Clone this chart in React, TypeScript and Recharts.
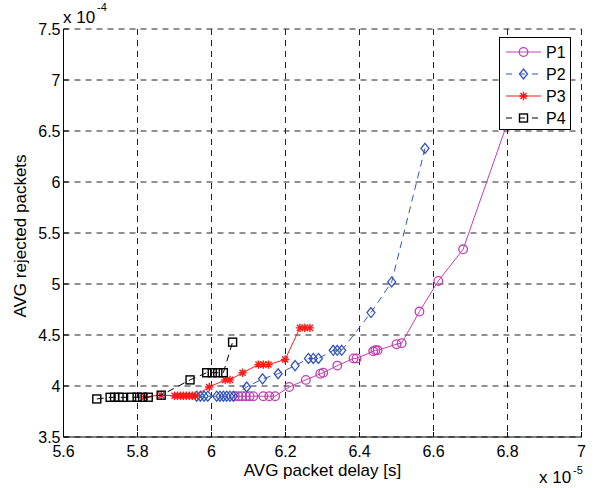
import React from "react";
import {
  ScatterChart, Scatter, XAxis, YAxis, CartesianGrid, Legend, Label,
} from "recharts";

// values are in units of 1e-5 s (x) and 1e-4 (y)
const X_TICKS = [5.6, 5.8, 6, 6.2, 6.4, 6.6, 6.8, 7];
const Y_TICKS = [3.5, 4, 4.5, 5, 5.5, 6, 6.5, 7, 7.5];

const P1_X = [6.063, 6.073, 6.083, 6.093, 6.103, 6.113, 6.14, 6.156, 6.172, 6.21, 6.255, 6.294, 6.302, 6.34, 6.384, 6.392, 6.437, 6.443, 6.449, 6.5, 6.514, 6.562, 6.613, 6.68, 6.82];
const P1_Y = [3.9, 3.9, 3.9, 3.9, 3.9, 3.9, 3.9, 3.9, 3.9, 3.99, 4.06, 4.12, 4.13, 4.2, 4.27, 4.27, 4.34, 4.35, 4.35, 4.41, 4.42, 4.73, 5.03, 5.34, 6.79];

const P2_X = [5.96, 5.97, 5.98, 5.99, 6.014, 6.023, 6.032, 6.041, 6.05, 6.059, 6.095, 6.138, 6.18, 6.226, 6.262, 6.275, 6.289, 6.329, 6.34, 6.352, 6.431, 6.487, 6.577];
const P2_Y = [3.9, 3.9, 3.9, 3.9, 3.9, 3.9, 3.9, 3.9, 3.9, 3.9, 3.99, 4.07, 4.12, 4.2, 4.27, 4.27, 4.27, 4.35, 4.35, 4.35, 4.72, 5.02, 6.33];

const P3_X = [5.82, 5.864, 5.9, 5.908, 5.916, 5.924, 5.932, 5.94, 5.948, 5.956, 5.994, 6.037, 6.05, 6.084, 6.127, 6.14, 6.154, 6.199, 6.239, 6.252, 6.266];
const P3_Y = [3.895, 3.91, 3.905, 3.905, 3.905, 3.905, 3.905, 3.905, 3.905, 3.905, 3.99, 4.06, 4.06, 4.13, 4.21, 4.21, 4.21, 4.26, 4.57, 4.57, 4.57];

const P4_X = [5.69, 5.726, 5.738, 5.75, 5.76, 5.784, 5.799, 5.814, 5.829, 5.864, 5.942, 5.987, 6.002, 6.017, 6.032, 6.057];
const P4_Y = [3.873, 3.889, 3.889, 3.889, 3.889, 3.89, 3.89, 3.89, 3.89, 3.91, 4.06, 4.13, 4.13, 4.13, 4.13, 4.43];

const FONT = "'Liberation Sans', Arial, Helvetica, sans-serif";

type Mark = "circle" | "diamond" | "star" | "square";

const SERIES: { name: string; xs: number[]; ys: number[]; color: string; dash?: string; mark: Mark }[] = [
  { name: "P1", xs: P1_X, ys: P1_Y, color: "#c040b0", mark: "circle" },
  { name: "P2", xs: P2_X, ys: P2_Y, color: "#3355bb", dash: "7 5", mark: "diamond" },
  { name: "P3", xs: P3_X, ys: P3_Y, color: "#ff1a1a", mark: "star" },
  { name: "P4", xs: P4_X, ys: P4_Y, color: "#000000", dash: "7 5", mark: "square" },
];

function Marker({ cx, cy, mark, color }: { cx: number; cy: number; mark: Mark; color: string }) {
  if (cx == null || cy == null) return null;
  if (mark === "circle") return <circle cx={cx} cy={cy} r={4.3} fill="none" stroke={color} strokeWidth={1.3} />;
  if (mark === "diamond")
    return <path d={`M${cx},${cy - 5}L${cx + 4},${cy}L${cx},${cy + 5}L${cx - 4},${cy}Z`} fill="none" stroke={color} strokeWidth={1.3} />;
  if (mark === "square") return <rect x={cx - 4} y={cy - 4} width={8} height={8} fill="none" stroke={color} strokeWidth={1.4} />;
  const r = 4.2;
  const d = r * 0.72;
  return (
    <path
      d={`M${cx - r},${cy}L${cx + r},${cy}M${cx},${cy - r}L${cx},${cy + r}M${cx - d},${cy - d}L${cx + d},${cy + d}M${cx - d},${cy + d}L${cx + d},${cy - d}`}
      stroke={color}
      strokeWidth={1.4}
    />
  );
}

function LegendBox() {
  return (
    <svg width={72} height={93} style={{ display: "block", background: "#fff" }}>
      <rect x={0.5} y={0.5} width={71} height={92} fill="#fff" stroke="#000" />
      {SERIES.map((s, i) => {
        const cy = 15 + i * 22;
        return (
          <g key={s.name}>
            <line x1={7} x2={42} y1={cy} y2={cy} stroke={s.color} strokeDasharray={s.dash ? "6 7" : undefined} />
            <Marker cx={24.5} cy={cy} mark={s.mark} color={s.color} />
            <text x={47} y={cy + 6} fontSize={16} fontFamily={FONT} fill="#000">{s.name}</text>
          </g>
        );
      })}
    </svg>
  );
}

export default function App() {
  return (
    <div style={{ position: "absolute", left: 0, top: 0, width: 596, height: 488, background: "#fff", fontFamily: FONT }}>
      <ScatterChart width={596} height={488} margin={{ top: 29, right: 14.5, bottom: 0, left: 0 }}>
        <CartesianGrid stroke="#222" strokeDasharray="6 5" />
        <XAxis
          type="number"
          dataKey="x"
          domain={[5.6, 7]}
          ticks={X_TICKS}
          allowDataOverflow
          height={51}
          tickSize={-5}
          tickMargin={14}
          stroke="#000"
          tick={{ fill: "#000", fontSize: 16, fontFamily: FONT }}
          tickFormatter={(v: number) => String(Number(v.toFixed(1)))}
        >
          <Label
            content={({ viewBox }: any) => (
              <g fontFamily={FONT} fill="#000">
                <text x={viewBox.x + viewBox.width / 2} y={476} textAnchor="middle" fontSize={17}>AVG packet delay [s]</text>
                <text x={539} y={483} fontSize={17}>x 10</text>
                <text x={573} y={474} fontSize={11}>-5</text>
              </g>
            )}
          />
        </XAxis>
        <XAxis xAxisId="top" orientation="top" type="number" domain={[5.6, 7]} ticks={X_TICKS} allowDataOverflow height={0} tickSize={-5} tick={false} stroke="#000" />
        <YAxis
          type="number"
          dataKey="y"
          domain={[3.5, 7.5]}
          ticks={Y_TICKS}
          allowDataOverflow
          width={63.5}
          tickSize={-5}
          tickMargin={8}
          stroke="#000"
          tick={{ fill: "#000", fontSize: 16, fontFamily: FONT }}
          tickFormatter={(v: number) => String(v)}
        >
          <Label
            content={() => (
              <g fontFamily={FONT} fill="#000">
                <text x={26} y={236} textAnchor="middle" fontSize={17} transform="rotate(-90 26 236)">
                  AVG rejected packets
                </text>
                <text x={63} y={23} fontSize={17}>x 10</text>
                <text x={97} y={11} fontSize={11}>-4</text>
              </g>
            )}
          />
        </YAxis>
        <YAxis yAxisId="right" orientation="right" type="number" domain={[3.5, 7.5]} ticks={Y_TICKS} allowDataOverflow width={0} tickSize={-5} tick={false} stroke="#000" />
        {SERIES.map((s) => (
          <Scatter
            key={s.name}
            name={s.name}
            data={s.xs.map((x, i) => ({ x, y: s.ys[i] }))}
            fill={s.color}
            line={{ stroke: s.color, strokeWidth: 1, strokeDasharray: s.dash }}
            lineType="joint"
            shape={(p: any) => <Marker cx={p.cx} cy={p.cy} mark={s.mark} color={s.color} />}
            isAnimationActive={false}
          />
        ))}
        <Legend
          layout="vertical"
          align="center"
          verticalAlign="middle"
          content={() => <LegendBox />}
          wrapperStyle={{ position: "absolute", left: 499, top: 37, width: 72, height: 93 }}
        />
      </ScatterChart>
    </div>
  );
}
